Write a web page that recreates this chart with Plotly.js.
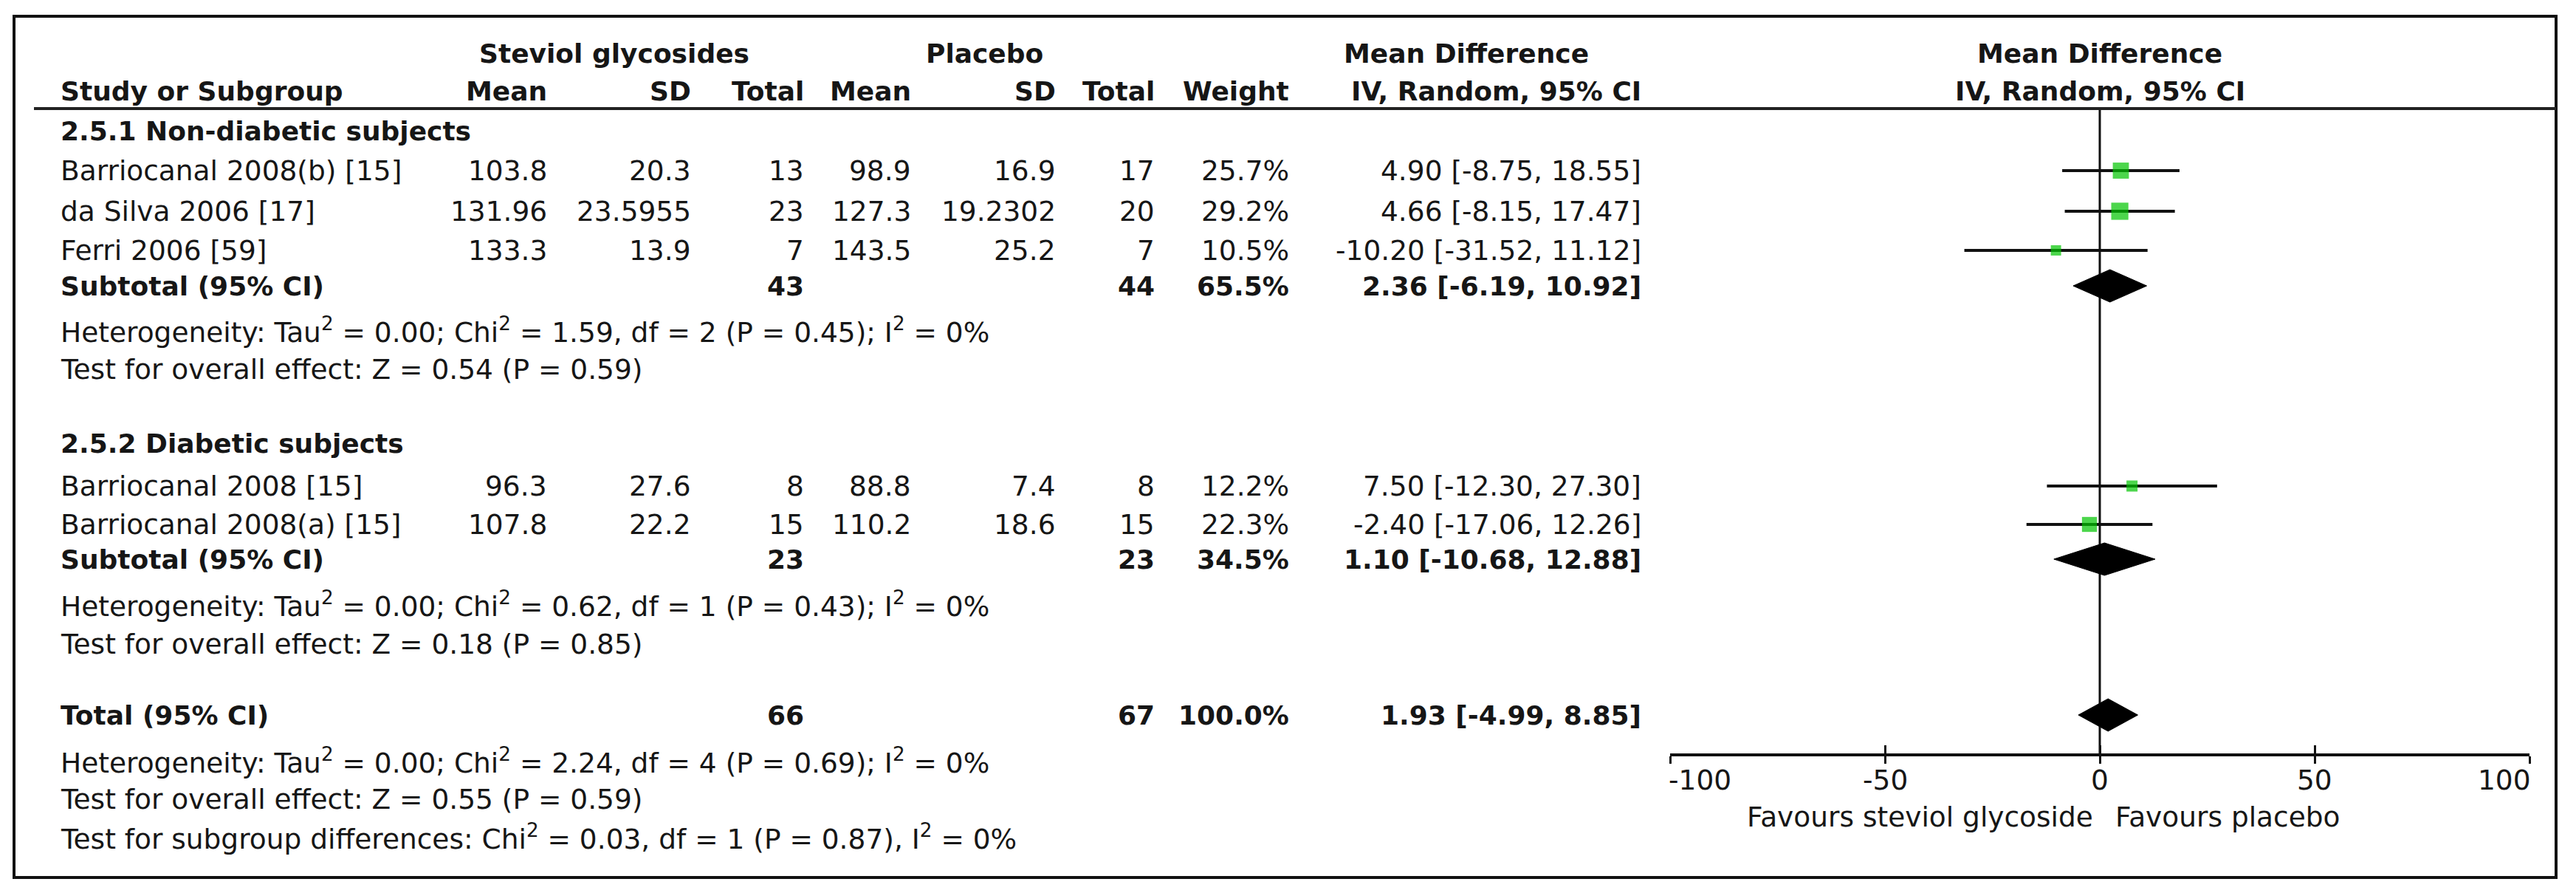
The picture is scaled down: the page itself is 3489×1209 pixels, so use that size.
<!DOCTYPE html>
<html>
<head>
<meta charset="utf-8">
<script src="https://cdn.plot.ly/plotly-3.0.1.min.js"></script>
<style>html,body{margin:0;padding:0;background:#fff;}#chart{width:3489px;height:1209px;}</style>
</head>
<body>
<div id="chart"></div>
<script>
// ---------------- DATA ----------------
const groupTitles = ["2.5.1 Non-diabetic subjects", "2.5.2 Diabetic subjects"];
const studyNames = ["Barriocanal 2008(b) [15]", "da Silva 2006 [17]", "Ferri 2006 [59]", "Barriocanal 2008 [15]", "Barriocanal 2008(a) [15]"];
const studyGroup = [0, 0, 0, 1, 1];
const sgMean = [103.8, 131.96, 133.3, 96.3, 107.8];
const sgSD = [20.3, 23.5955, 13.9, 27.6, 22.2];
const sgTotal = [13, 23, 7, 8, 15];
const plMean = [98.9, 127.3, 143.5, 88.8, 110.2];
const plSD = [16.9, 19.2302, 25.2, 7.4, 18.6];
const plTotal = [17, 20, 7, 8, 15];
const weights = [25.7, 29.2, 10.5, 12.2, 22.3];
const md = [4.90, 4.66, -10.20, 7.50, -2.40];
const ciLow = [-8.75, -8.15, -31.52, -12.30, -17.06];
const ciHigh = [18.55, 17.47, 11.12, 27.30, 12.26];

const pooledLabels = ["Subtotal (95% CI)", "Subtotal (95% CI)", "Total (95% CI)"];
const pooledSgTotal = [43, 23, 66];
const pooledPlTotal = [44, 23, 67];
const pooledWeight = [65.5, 34.5, 100.0];
const pooledMd = [2.36, 1.10, 1.93];
const pooledLow = [-6.19, -10.68, -4.99];
const pooledHigh = [10.92, 12.88, 8.85];

const heterogeneity = [
  "Heterogeneity: Tau<sup>2</sup> = 0.00; Chi<sup>2</sup> = 1.59, df = 2 (P = 0.45); I<sup>2</sup> = 0%",
  "Heterogeneity: Tau<sup>2</sup> = 0.00; Chi<sup>2</sup> = 0.62, df = 1 (P = 0.43); I<sup>2</sup> = 0%",
  "Heterogeneity: Tau<sup>2</sup> = 0.00; Chi<sup>2</sup> = 2.24, df = 4 (P = 0.69); I<sup>2</sup> = 0%"
];
const overallEffect = [
  "Test for overall effect: Z = 0.54 (P = 0.59)",
  "Test for overall effect: Z = 0.18 (P = 0.85)",
  "Test for overall effect: Z = 0.55 (P = 0.59)"
];
const subgroupTest = "Test for subgroup differences: Chi<sup>2</sup> = 0.03, df = 1 (P = 0.87), I<sup>2</sup> = 0%";

const headerTop = ["Steviol glycosides", "Placebo", "Mean Difference", "Mean Difference"];
const headerCols = ["Study or Subgroup", "Mean", "SD", "Total", "Mean", "SD", "Total", "Weight", "IV, Random, 95% CI", "IV, Random, 95% CI"];
const tickVals = [-100, -50, 0, 50, 100];
const tickText = ["-100", "-50", "0", "50", "100"];
const favoursLeft = "Favours steviol glycoside";
const favoursRight = "Favours placebo";

// ---------------- LAYOUT CONSTANTS (pixels) ----------------
const W = 3489, H = 1209;
const FS = 37.5, FSB = 36, TXT = "#161616";
const COL = {study: 81, sgMean: 742, sgSD: 937, sgTotal: 1090, plMean: 1235, plSD: 1431, plTotal: 1565, weight: 1747, ci: 2224};
const HDR_X = {steviol: 832, placebo: 1333, md: 1986, plot: 2844};
const ROW = {
  hdr1: 72, hdr2: 123, rule: 147,
  groupTitle: [177, 600],
  study: [231, 286, 339, 658, 710],
  pooled: [387, 757, 968],
  het: [447, 818, 1030],
  z: [500, 872, 1082],
  sgd: 1133,
  axis: 1022, tickLabel: 1056, favours: 1106
};
const PLOT_X0 = 2262, PLOT_X1 = 3426;
const FRAME = {x0: 19, x1: 3462, y0: 22, y1: 1188};

// ---------------- BUILD ----------------
const ann = [];
function A(text, xpx, ypx, anchor, bold, size) {
  ann.push({
    text: bold ? "<b>" + text + "</b>" : text,
    x: xpx / W, xref: "paper", y: ypx, yref: "y",
    xanchor: anchor, yanchor: "middle", showarrow: false, borderpad: 0,
    font: {family: "DejaVu Sans", size: size || (bold ? FSB : FS), color: TXT}
  });
}
const ciStr = (m, l, h) => m.toFixed(2) + " [" + l.toFixed(2) + ", " + h.toFixed(2) + "]";

// headers
A(headerTop[0], HDR_X.steviol, ROW.hdr1, "center", true);
A(headerTop[1], HDR_X.placebo, ROW.hdr1, "center", true);
A(headerTop[2], HDR_X.md, ROW.hdr1, "center", true);
A(headerTop[3], HDR_X.plot, ROW.hdr1, "center", true);
A(headerCols[0], COL.study, ROW.hdr2, "left", true);
A(headerCols[1], COL.sgMean, ROW.hdr2, "right", true);
A(headerCols[2], COL.sgSD, ROW.hdr2, "right", true);
A(headerCols[3], COL.sgTotal, ROW.hdr2, "right", true);
A(headerCols[4], COL.plMean, ROW.hdr2, "right", true);
A(headerCols[5], COL.plSD, ROW.hdr2, "right", true);
A(headerCols[6], COL.plTotal, ROW.hdr2, "right", true);
A(headerCols[7], COL.weight, ROW.hdr2, "right", true);
A(headerCols[8], COL.ci, ROW.hdr2, "right", true);
A(headerCols[9], HDR_X.plot, ROW.hdr2, "center", true);

groupTitles.forEach((g, i) => A(g, COL.study, ROW.groupTitle[i], "left", true));

studyNames.forEach((n, i) => {
  const y = ROW.study[i];
  A(n, COL.study, y, "left", false);
  A(String(sgMean[i]), COL.sgMean, y, "right", false);
  A(String(sgSD[i]), COL.sgSD, y, "right", false);
  A(String(sgTotal[i]), COL.sgTotal, y, "right", false);
  A(String(plMean[i]), COL.plMean, y, "right", false);
  A(String(plSD[i]), COL.plSD, y, "right", false);
  A(String(plTotal[i]), COL.plTotal, y, "right", false);
  A(weights[i].toFixed(1) + "%", COL.weight, y, "right", false);
  A(ciStr(md[i], ciLow[i], ciHigh[i]), COL.ci, y, "right", false);
});

pooledLabels.forEach((l, i) => {
  const y = ROW.pooled[i];
  A(l, COL.study, y, "left", true);
  A(String(pooledSgTotal[i]), COL.sgTotal, y, "right", true);
  A(String(pooledPlTotal[i]), COL.plTotal, y, "right", true);
  A(pooledWeight[i].toFixed(1) + "%", COL.weight, y, "right", true);
  A(ciStr(pooledMd[i], pooledLow[i], pooledHigh[i]), COL.ci, y, "right", true);
});
heterogeneity.forEach((t, i) => A(t, COL.study, ROW.het[i], "left", false));
overallEffect.forEach((t, i) => A(t, COL.study, ROW.z[i], "left", false));
A(subgroupTest, COL.study, ROW.sgd, "left", false);
A(favoursLeft, HDR_X.plot - 8, ROW.favours, "right", false);
A(favoursRight, HDR_X.plot + 20, ROW.favours, "left", false);

// tick labels placed on the data axis (end labels aligned inward, as in RevMan)
tickVals.forEach((v, i) => {
  const anchor = i === 0 ? "left" : (i === tickVals.length - 1 ? "right" : "center");
  ann.push({
    text: tickText[i], x: v, xref: "x", y: ROW.tickLabel, yref: "y",
    xanchor: anchor, yanchor: "middle", showarrow: false, borderpad: 0,
    xshift: anchor === "left" ? -3 : (anchor === "right" ? 3 : 0),
    font: {family: "DejaVu Sans", size: FS, color: TXT}
  });
});

const traces = [];
// zero line
traces.push({x: [0, 0], y: [ROW.rule, ROW.axis], mode: "lines", line: {color: "#111", width: 3}, hoverinfo: "skip", showlegend: false});
// studies
traces.push({
  x: md, y: ROW.study, mode: "markers", type: "scatter", showlegend: false, hoverinfo: "skip",
  marker: {symbol: "square", color: "#00c400", size: weights.map(w => 4.3 * Math.sqrt(w)), line: {width: 0}},
  error_x: {type: "data", symmetric: false,
    array: ciHigh.map((h, i) => h - md[i]), arrayminus: ciLow.map((l, i) => md[i] - l),
    thickness: 4, width: 0, color: "#111"}
});
// diamonds
const DH = 22;
pooledMd.forEach((m, i) => {
  const y = ROW.pooled[i];
  traces.push({
    x: [pooledLow[i], m, pooledHigh[i], m, pooledLow[i]],
    y: [y, y - DH, y, y + DH, y],
    mode: "lines", fill: "toself", fillcolor: "#000", line: {color: "#000", width: 1},
    hoverinfo: "skip", showlegend: false
  });
});
// helper trace for second (upward) tick axis
traces.push({x: [0], y: [-500], xaxis: "x2", mode: "markers", marker: {opacity: 0}, hoverinfo: "skip", showlegend: false});

const axPos = (H - ROW.axis) / H;
const dom = [PLOT_X0 / W, PLOT_X1 / W];
const layout = {
  width: W, height: H, margin: {l: 0, r: 0, t: 0, b: 0, pad: 0},
  paper_bgcolor: "#fff", plot_bgcolor: "rgba(0,0,0,0)",
  font: {family: "DejaVu Sans", size: FS, color: TXT},
  showlegend: false,
  xaxis: {domain: dom, range: [-100, 100], anchor: "free", position: axPos,
    showline: true, linewidth: 4, linecolor: "#111", ticks: "outside", ticklen: 10, tickwidth: 3, tickcolor: "#111",
    tickmode: "array", tickvals: tickVals, showticklabels: false,
    showgrid: false, zeroline: false, fixedrange: true},
  xaxis2: {domain: dom, range: [-100, 100], overlaying: "x", anchor: "free", position: axPos, side: "bottom",
    showline: false, ticks: "inside", ticklen: 13, tickwidth: 3, tickcolor: "#111",
    tickmode: "array", tickvals: tickVals, showticklabels: false, showgrid: false, zeroline: false, fixedrange: true},
  yaxis: {domain: [0, 1], range: [H, 0], visible: false, showgrid: false, zeroline: false, fixedrange: true},
  annotations: ann,
  shapes: [
    {type: "rect", xref: "paper", yref: "y", x0: FRAME.x0 / W, x1: FRAME.x1 / W, y0: FRAME.y0, y1: FRAME.y1,
      line: {color: "#111", width: 4}, fillcolor: "rgba(0,0,0,0)", layer: "below"},
    {type: "line", xref: "paper", yref: "y", x0: 46 / W, x1: FRAME.x1 / W, y0: ROW.rule, y1: ROW.rule,
      line: {color: "#222", width: 4}}
  ]
};
Plotly.newPlot("chart", traces, layout, {staticPlot: true, displayModeBar: false});
</script>
</body>
</html>
